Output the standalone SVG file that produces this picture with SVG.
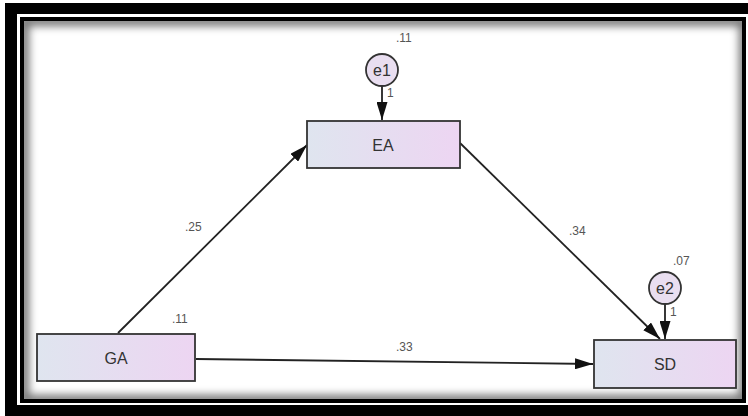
<svg xmlns="http://www.w3.org/2000/svg" width="748" height="416" viewBox="0 0 748 416">
  <defs>
    <linearGradient id="nodeFill" x1="0" y1="0" x2="1" y2="0">
      <stop offset="0" stop-color="#dfe5ef"/>
      <stop offset="1" stop-color="#edd5f2"/>
    </linearGradient>
    <marker id="arrow" viewBox="0 0 18 11" refX="18" refY="5.5" markerWidth="18" markerHeight="11" markerUnits="userSpaceOnUse" orient="auto">
      <path d="M0,0 L18,5.5 L0,11 Z" fill="#111"/>
    </marker>
    <clipPath id="inner">
      <rect x="24" y="21" width="720" height="379"/>
    </clipPath>
    <filter id="blur" x="-5%" y="-5%" width="110%" height="110%">
      <feGaussianBlur stdDeviation="4"/>
    </filter>
    <style>
      .node rect { fill: url(#nodeFill); stroke: #333; stroke-width: 1.8; }
      .node circle { fill: #e9def0; stroke: #333; stroke-width: 1.8; }
      .lbl { font-family: "Liberation Sans", Arial, sans-serif; font-size: 16px; fill: #333; text-anchor: middle; dominant-baseline: central; }
      .num { font-family: "Liberation Sans", Arial, sans-serif; font-size: 12px; fill: #555; }
      .conn line { stroke: #222; stroke-width: 1.8; marker-end: url(#arrow); }
    </style>
  </defs>

  <!-- frame -->
  <rect x="0" y="0" width="748" height="416" fill="#fff"/>
  <rect x="5" y="3" width="743" height="413" fill="#000"/>
  <rect x="17" y="14" width="731" height="391" fill="#fff"/>
  <rect x="22" y="19" width="722" height="382" fill="#fff" stroke="#000" stroke-width="4"/>
  <g clip-path="url(#inner)">
    <rect x="24" y="21" width="720" height="379" fill="none" stroke="#000" stroke-width="10" opacity="0.55" filter="url(#blur)"/>
  </g>

  <!-- connectors -->
  <g id="connectors" class="conn">
    <line x1="118" y1="333" x2="307" y2="145"/>
    <line x1="460" y1="143" x2="660" y2="339"/>
    <line x1="196" y1="359" x2="593" y2="364"/>
    <line x1="382" y1="86" x2="382" y2="120"/>
    <line x1="665" y1="304" x2="665" y2="339"/>
  </g>

  <!-- path labels -->
  <g id="path-labels">
    <text class="num" x="185" y="231">.25</text>
    <text class="num" x="569" y="235">.34</text>
    <text class="num" x="396" y="351">.33</text>
  </g>

  <g id="node-EA" class="node">
    <rect x="307" y="121" width="153" height="47"/>
    <text class="lbl" x="383" y="145">EA</text>
  </g>

  <g id="node-GA" class="node">
    <rect x="37" y="334" width="158" height="47"/>
    <text class="lbl" x="116" y="358">GA</text>
    <text class="num" x="172" y="323">.11</text>
  </g>

  <g id="node-SD" class="node">
    <rect x="594" y="340" width="142" height="48"/>
    <text class="lbl" x="665" y="364">SD</text>
  </g>

  <g id="node-e1" class="node">
    <circle cx="382" cy="70" r="16"/>
    <text class="lbl" x="382" y="70">e1</text>
    <text class="num" x="396" y="42">.11</text>
    <text class="num" x="387" y="97" font-size="10">1</text>
  </g>

  <g id="node-e2" class="node">
    <circle cx="665" cy="288" r="16"/>
    <text class="lbl" x="665" y="288">e2</text>
    <text class="num" x="673" y="265">.07</text>
    <text class="num" x="670" y="316" font-size="10">1</text>
  </g>
</svg>
